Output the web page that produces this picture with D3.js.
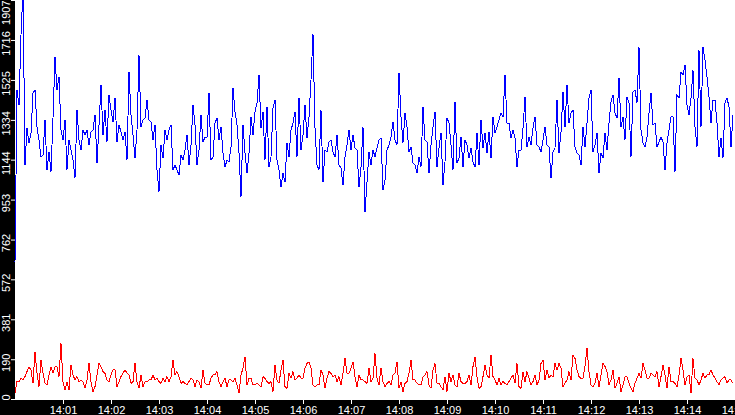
<!DOCTYPE html>
<html>
<head>
<meta charset="utf-8">
<script src="https://cdn.jsdelivr.net/npm/d3@7"></script>
<style>
  html, body { margin: 0; padding: 0; background: #fff; overflow: hidden; }
  svg { display: block; }
  .axis text { font-family: "Liberation Sans", Arial, sans-serif; font-size: 11px; fill: #fff; }
  .axis line { stroke: #fff; }
  .series { fill: none; stroke-width: 1; shape-rendering: crispEdges; }
</style>
</head>
<body>
<div id="chart"></div>
<script>
// one sample every 2.5 s from 14:00
const startTime = new Date(2024, 0, 1, 14, 0, 0);
const endTime = new Date(2024, 0, 1, 14, 15, 0);
const stepMs = 2500;

const yTickLabels = ['0', '190', '381', '572', '762', '953', '1144', '1334', '1525', '1716', '1907'];
const xTickLabels = ['14:01', '14:02', '14:03', '14:04', '14:05', '14:06', '14:07', '14:08',
  '14:09', '14:10', '14:11', '14:12', '14:13', '14:14', '14:15'];

const blueValues = [
  655, 1477, 1405, 1740, 1960, 1118, 1295, 1224, 1271, 1463,
  1477, 1300, 1238, 1157, 1166, 1334, 1095, 1181, 1085, 1343,
  1635, 1477, 1539, 1286, 1238, 1334, 1095, 1238, 1190, 1142,
  1056, 1381, 1238, 1190, 1286, 1262, 1286, 1214, 1276, 1286,
  1357, 1128, 1310, 1501, 1262, 1381, 1228, 1453, 1381, 1324,
  1439, 1228, 1310, 1276, 1238, 1276, 1142, 1563, 1357, 1262,
  1152, 1286, 1644, 1300, 1334, 1343, 1429, 1334, 1324, 1238,
  1310, 1095, 989, 1214, 1152, 1286, 1238, 1286, 1310, 1095,
  1118, 1095, 1071, 1166, 1142, 1190, 1262, 1118, 1214, 1405,
  1310, 1118, 1190,
  1357, 1228, 1252, 1252, 1463, 1142, 1157, 1319, 1343, 1238,
  1300, 1176, 1109, 1142, 1133, 1204, 1486, 1372, 1310, 1176,
  966, 1310, 1176, 1080, 1176, 1348, 1262, 1372, 1415, 1549,
  1295, 1372, 1142, 1396, 1109, 1157, 1391, 1429, 1142, 1095,
  1013, 1080, 1037, 1224, 1157, 1286, 1319, 1372, 1157, 1439,
  1190, 1262, 1405, 1247, 1348, 1525, 1745, 1295, 1118, 1095,
  1381, 1037, 1190, 1181, 1228, 1238, 1181,
  1157, 1262, 1118, 1104, 1023, 1157, 1214, 1286, 1190, 1262,
  1200, 1190, 1013, 1109, 1300, 894, 1037, 1181, 1118, 1190,
  1157, 1200, 1238, 1247, 999, 1047, 1190, 1214, 1252, 1324,
  1238, 1214, 1558, 1348, 1224, 1367, 1300, 1181, 1204, 1128,
  1118, 1080, 1157, 1109, 1396, 1238, 1228, 1080, 1214, 1300,
  1372, 1109, 1200, 1271, 1023, 1133, 1343, 1319, 1214, 1095,
  1420, 1128, 1152, 1252, 1109, 1238, 1214,
  1152, 1200, 1133, 1109, 1271, 1118, 1334, 1200, 1271, 1176,
  1276, 1152, 1348, 1271, 1300, 1334, 1367, 1348, 1549, 1319,
  1319, 1247, 1286, 1247, 1109, 1190, 1190, 1295, 1443, 1204,
  1252, 1214, 1295, 1348, 1214, 1204, 1181, 1238, 1300, 1214,
  1204, 1056, 1181, 1200, 1429, 1176, 1276, 1467, 1300, 1501,
  1319, 1367, 1381, 1204, 1176, 1166, 1118, 1300, 1204, 1319,
  1439, 1477, 1181, 1214, 1271, 1080, 1176, 1152,
  1271, 1190, 1319, 1420, 1453, 1367, 1343, 1534, 1300, 1348,
  1238, 1443, 1415, 1157, 1467, 1477, 1415, 1682, 1286, 1224,
  1204, 1252, 1367, 1463, 1310, 1319, 1204, 1228, 1252, 1228,
  1095, 1224, 1286, 1348, 1348, 1085, 1453, 1439, 1563, 1549,
  1596, 1405, 1357, 1439, 1572, 1300, 1204, 1668, 1300, 1682,
  1620, 1539, 1443, 1319, 1429, 1429, 1319, 1157, 1247, 1152,
  1415, 1439, 1396, 1204, 1357
];

const redValues = [
  27, 83, 83, 99, 91, 107, 131, 154, 139, 75,
  226, 123, 59, 186, 123, 75, 67, 115, 154, 123,
  154, 154, 107, 266, 83, 43, 83, 43, 162, 115,
  91, 107, 83, 91, 83, 51, 91, 171, 83, 35,
  59, 115, 171, 154, 131, 123, 91, 83, 115, 139,
  139, 59, 83, 107, 123, 139, 123, 115, 75, 83,
  171, 83, 51, 115, 59, 83, 83, 91, 91, 115,
  91, 99, 83, 75, 99, 83, 107, 83, 107, 186,
  115, 131, 107, 75, 83, 75, 67, 83, 99, 91,
  59, 91, 83,
  51, 139, 75, 67, 67, 99, 115, 115, 131, 83,
  59, 83, 99, 59, 91, 91, 83, 99, 67, 27,
  115, 147, 202, 67, 99, 99, 67, 67, 75, 67,
  59, 107, 99, 83, 75, 83, 35, 162, 91, 75,
  139, 186, 59, 51, 123, 99, 131, 91, 99, 115,
  99, 99, 147, 170, 178, 147, 67, 59, 67, 67,
  139, 115, 51, 99, 131, 123, 107, 115, 83, 107,
  67, 123, 194, 123, 123, 147, 178, 107, 59, 115,
  91, 91, 83, 75, 147,
  83, 99, 218, 99, 67, 147, 83, 59, 75, 83,
  67, 115, 123, 178, 51, 83, 35, 75, 83, 123,
  186, 91, 91, 75, 67, 67, 107, 115, 131, 67,
  51, 139, 170, 75, 75, 59, 43, 107, 35, 123,
  83, 115, 67, 59, 123, 83, 75, 75, 83, 115,
  67, 155, 202, 107, 51, 59, 107, 162, 115, 99,
  210, 107, 91, 67, 99, 67, 83, 75, 67, 83,
  99, 115, 75, 170, 59, 51, 131, 83, 131, 99,
  67, 83, 115, 67, 91,
  170, 186, 91, 139, 99, 115, 107, 170, 139, 170,
  147, 59, 75, 91, 131, 91, 210, 194, 139, 107,
  99, 99, 155, 242, 131, 67, 59, 75, 123, 59,
  115, 170, 155, 131, 67, 91, 139, 51, 75, 107,
  35, 67, 107, 107, 75, 51, 35, 75, 99, 123,
  99, 170, 139, 99, 99, 123, 115, 107, 131, 59,
  107, 163, 115, 51, 155, 83, 83, 75, 59, 115,
  194, 139, 67, 107, 115, 27, 194, 99, 91, 67,
  91, 123, 99, 115, 115, 139, 115, 99, 83, 67,
  91, 99, 107, 75, 91, 91, 75
];

const width = 735;
const height = 415;
const margin = { left: 15, bottom: 15 };
const plotBottom = height - margin.bottom; // 400

const timeAt = i => new Date(startTime.getTime() + i * stepMs);
const parseTick = s => {
  const [h, m] = s.split(':').map(Number);
  const d = new Date(startTime);
  d.setHours(h, m, 0, 0);
  return d;
};

const x = d3.scaleTime()
  .domain([startTime, endTime])
  .range([margin.left, width]);

const y = d3.scaleLinear()
  .domain([0, +yTickLabels[yTickLabels.length - 1]])
  .range([plotBottom - 1, 0]);

const svg = d3.select('#chart').append('svg')
  .attr('width', width)
  .attr('height', height);

svg.append('rect')
  .attr('width', width).attr('height', height)
  .attr('fill', '#fff');

// black axis bands
svg.append('rect')
  .attr('x', 0).attr('y', 0)
  .attr('width', margin.left).attr('height', height)
  .attr('fill', '#000');

svg.append('rect')
  .attr('x', 0).attr('y', plotBottom)
  .attr('width', width).attr('height', margin.bottom)
  .attr('fill', '#000');

const line = d3.line()
  .x((d, i) => x(timeAt(i)))
  .y(d => y(d));

svg.append('path')
  .datum(redValues)
  .attr('class', 'series')
  .attr('stroke', '#ff0000')
  .attr('d', line);

svg.append('path')
  .datum(blueValues)
  .attr('class', 'series')
  .attr('stroke', '#0000ff')
  .attr('d', line);

const xAxis = svg.append('g')
  .attr('class', 'axis')
  .attr('transform', `translate(0,${plotBottom})`)
  .call(d3.axisBottom(x)
    .tickValues(xTickLabels.map(parseTick))
    .tickFormat(d3.timeFormat('%H:%M'))
    .tickSize(4)
    .tickPadding(2));
xAxis.select('.domain').remove();

const yAxis = svg.append('g')
  .attr('class', 'axis')
  .attr('transform', `translate(${margin.left},0)`)
  .call(d3.axisLeft(y)
    .tickValues(yTickLabels.map(Number))
    .tickFormat((d, i) => yTickLabels[i])
    .tickSize(4));
yAxis.select('.domain').remove();

// vertical labels, kept inside the band
yAxis.selectAll('.tick text').each(function (d) {
  const t = d3.select(this);
  const half = this.getComputedTextLength() / 2;
  const ty = y(d);
  const cy = Math.min(Math.max(ty + 3, half), plotBottom - half);
  t.attr('x', 0).attr('y', 0).attr('dy', 0)
    .attr('text-anchor', 'middle')
    .attr('transform', `translate(-5,${cy - ty}) rotate(-90)`);
});
</script>
</body>
</html>
